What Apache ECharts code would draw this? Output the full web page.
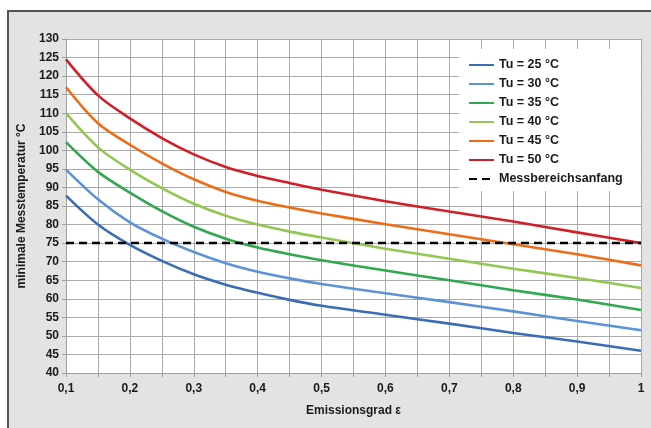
<!DOCTYPE html>
<html>
<head>
<meta charset="utf-8">
<script src="https://cdn.jsdelivr.net/npm/echarts@6/dist/echarts.min.js"></script>
<style>
  html, body { margin: 0; padding: 0; background: #fff; }
  #chart { width: 651px; height: 428px; }
</style>
</head>
<body>
<div id="chart"></div>
<script>
// Emissionsgrad (x)
const emission = [0.1, 0.15, 0.2, 0.25, 0.3, 0.35, 0.4, 0.45, 0.5, 0.6, 0.7, 0.8, 0.9, 1.0]
// minimale Messtemperatur je Umgebungstemperatur
const tu25 = [87.8, 80.0, 74.5, 70.2, 66.6, 63.8, 61.6, 59.7, 58.1, 55.7, 53.3, 50.8, 48.5, 46.0]
const tu30 = [94.8, 86.8, 80.6, 76.2, 72.6, 69.6, 67.3, 65.5, 64.0, 61.5, 59.1, 56.6, 54.0, 51.5]
const tu35 = [102.2, 94.2, 88.6, 83.6, 79.4, 76.2, 73.8, 72.0, 70.4, 67.6, 65.0, 62.3, 59.8, 57.0]
const tu40 = [110.0, 100.8, 94.8, 89.8, 85.6, 82.4, 80.0, 78.1, 76.5, 73.5, 70.8, 68.1, 65.6, 62.9]
const tu45 = [117.0, 107.3, 101.5, 96.5, 92.2, 88.8, 86.4, 84.6, 83.0, 80.1, 77.4, 74.7, 72.0, 69.0]
const tu50 = [124.5, 114.8, 108.6, 103.3, 98.9, 95.5, 93.1, 91.2, 89.4, 86.3, 83.5, 80.8, 77.9, 75.0]
const messbereichX = [0.1, 1.0]
const messbereichY = [75, 75]

const seriesNames = ['Tu = 25 °C', 'Tu = 30 °C', 'Tu = 35 °C', 'Tu = 40 °C', 'Tu = 45 °C', 'Tu = 50 °C']
const seriesValues = [tu25, tu30, tu35, tu40, tu45, tu50]
const seriesColors = ['#3a6db3', '#5b93d6', '#2fa84f', '#93c652', '#ef6c17', '#d01f26']

const chart = echarts.init(document.getElementById('chart'))

const lineSeries = seriesNames.map((name, i) => ({
  name: name,
  type: 'line',
  smooth: 0.3,
  symbol: 'none',
  data: emission.map((x, j) => [x, seriesValues[i][j]]),
  lineStyle: { color: seriesColors[i], width: 2.6 },
  itemStyle: { color: seriesColors[i] },
  z: 3
}))

lineSeries.push({
  name: 'Messbereichsanfang',
  type: 'line',
  symbol: 'none',
  data: messbereichX.map((x, j) => [x, messbereichY[j]]),
  lineStyle: { color: '#000', width: 2.5, type: [8, 5] },
  itemStyle: { color: '#000' },
  z: 4
})

const font = 'Liberation Sans, Arial, sans-serif'
const txt = { fontFamily: font, fontSize: 12, fontWeight: 'bold', color: '#1a1a1a' }

chart.setOption({
  animation: false,
  textStyle: { fontFamily: font },
  graphic: [
    {
      type: 'rect',
      z: -10,
      shape: { x: 8, y: 11, width: 700, height: 500 },
      style: { fill: '#e3e3e3', stroke: '#555', lineWidth: 2 }
    }
  ],
  grid: {
    left: 66,
    top: 39,
    right: 10,
    bottom: 55,
    show: true,
    backgroundColor: '#fff',
    borderWidth: 0
  },
  legend: {
    orient: 'vertical',
    left: 459,
    top: 49,
    backgroundColor: '#fff',
    padding: [9, 18, 5, 9],
    itemWidth: 25,
    itemHeight: 14,
    itemGap: 5,
    itemStyle: { opacity: 0 },
    data: seriesNames.concat(['Messbereichsanfang']),
    textStyle: Object.assign({}, txt, { fontSize: 12.5, lineHeight: 14 })
  },
  xAxis: {
    type: 'value',
    min: 0.1,
    max: 1,
    interval: 0.05,
    name: 'Emissionsgrad ε',
    nameLocation: 'middle',
    nameGap: 32,
    nameTextStyle: txt,
    axisLine: { lineStyle: { color: '#a0a0a0', width: 1 } },
    axisTick: { show: true, length: 4, lineStyle: { color: '#a0a0a0' } },
    axisLabel: Object.assign({}, txt, {
      margin: 10,
      formatter: v => {
        const k = Math.round(v * 100)
        if (k % 10 !== 0) return ''
        return k === 100 ? '1' : (k / 100).toFixed(1).replace('.', ',')
      }
    }),
    splitLine: { show: true, lineStyle: { color: '#aaaaaa', width: 1 } }
  },
  yAxis: {
    type: 'value',
    min: 40,
    max: 130,
    interval: 5,
    name: 'minimale Messtemperatur °C',
    nameLocation: 'middle',
    nameGap: 29,
    nameRotate: 90,
    nameTextStyle: txt,
    axisLine: { show: true, lineStyle: { color: '#a0a0a0', width: 1 } },
    axisTick: { show: true, length: 4, lineStyle: { color: '#a0a0a0' } },
    axisLabel: Object.assign({}, txt, { margin: 7 }),
    splitLine: { show: true, lineStyle: { color: '#aaaaaa', width: 1 } }
  },
  series: lineSeries
})
</script>
</body>
</html>
